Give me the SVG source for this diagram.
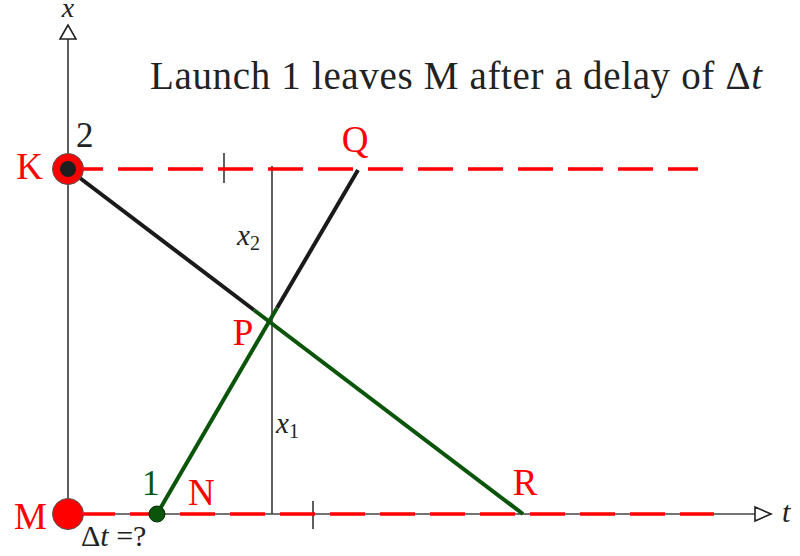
<svg xmlns="http://www.w3.org/2000/svg" width="800" height="556" viewBox="0 0 800 556">
<style>
.lbl{font-family:"Liberation Serif","Times New Roman",serif;font-size:37px;fill:#ff0000}
.blk{font-family:"Liberation Serif","Times New Roman",serif;fill:#222}
.it{font-style:italic}
.axis{stroke:#444;stroke-width:1.7;fill:none}
.dash{stroke:#ff0000;stroke-width:3.5;stroke-dasharray:35 15;fill:none}
.blkln{stroke:#1a1a1a;stroke-width:4;fill:none}
.grn{stroke:#0a550a;stroke-width:4;fill:none}
.arrow{fill:#fff;stroke:#222;stroke-width:1.6}
</style>
<rect width="800" height="556" fill="#fff"/>
<g id="axes">
  <line class="axis" x1="68" y1="514" x2="68" y2="39"/>
  <polygon class="arrow" points="68,25 60,39 76,39"/>
  <line class="axis" x1="68" y1="514" x2="755" y2="514"/>
  <polygon class="arrow" points="771,514 755,507 755,521"/>
  <text class="blk it" x="68" y="17" font-size="28" text-anchor="middle">x</text>
  <text class="blk it" x="782" y="522" font-size="30">t</text>
  <line class="axis" x1="272" y1="166" x2="272" y2="514"/>
  <line class="axis" x1="224" y1="153" x2="224" y2="183"/>
  <line class="axis" x1="313" y1="501" x2="313" y2="529"/>
  <text class="blk" x="237" y="245" font-size="29"><tspan class="it">x</tspan><tspan font-size="20" dy="5">2</tspan></text>
  <text class="blk" x="276" y="433" font-size="29"><tspan class="it">x</tspan><tspan font-size="20" dy="5">1</tspan></text>
</g>
<g id="title">
  <text class="blk" x="150" y="89" font-size="39" textLength="612" lengthAdjust="spacing">Launch 1 leaves M after a delay of Δ<tspan class="it">t</tspan></text>
</g>
<g id="connectors">
  <line class="dash" x1="68" y1="169" x2="698" y2="169"/>
  <line class="dash" x1="80" y1="514" x2="714" y2="514"/>
  <line class="blkln" x1="68" y1="169" x2="254" y2="310"/>
  <line class="grn" x1="254" y1="310" x2="523" y2="514"/>
  <line class="blkln" x1="358" y1="170" x2="277" y2="308"/>
  <line class="grn" x1="277" y1="308" x2="157" y2="514"/>
</g>
<g id="K">
  <circle cx="68" cy="169" r="15.5" fill="#ff0000" stroke="#555" stroke-width="1"/>
  <circle cx="68" cy="169" r="8" fill="#1e1e1e"/>
  <text class="lbl" x="43" y="179" text-anchor="end">K</text>
  <text class="blk" x="76" y="147" font-size="35">2</text>
</g>
<g id="M">
  <circle cx="68" cy="514" r="15.5" fill="#ff0000" stroke="#555" stroke-width="1"/>
  <text class="lbl" x="47" y="529" text-anchor="end">M</text>
  <text class="blk" x="81" y="546" font-size="30">Δ<tspan class="it">t</tspan> =?</text>
</g>
<g id="N">
  <circle cx="157" cy="514" r="8" fill="#0a550a" stroke="#063006" stroke-width="1"/>
  <text x="142" y="495" font-family="Liberation Serif, serif" font-size="35" fill="#0a550a">1</text>
  <text class="lbl" x="188" y="505">N</text>
</g>
<g id="Q">
  <text class="lbl" x="355" y="152" text-anchor="middle">Q</text>
</g>
<g id="P">
  <text class="lbl" x="243" y="345" text-anchor="middle">P</text>
</g>
<g id="R">
  <text class="lbl" x="525" y="495" text-anchor="middle">R</text>
</g>
</svg>
